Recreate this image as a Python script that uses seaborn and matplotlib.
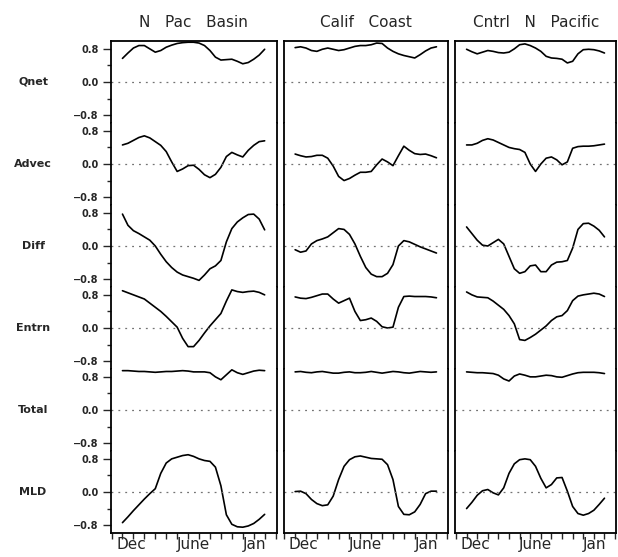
import numpy as np
import pandas as pd
import matplotlib
matplotlib.use('Agg')
import matplotlib.pyplot as plt
from matplotlib.ticker import FixedLocator
import seaborn as sns

# half-month grid, Dec (0) .. Jan of the following year (13)
months = np.arange(0, 13.5, 0.5)

regions = ['N   Pac   Basin', 'Calif   Coast', 'Cntrl   N   Pacific']
terms = ['Qnet', 'Advec', 'Diff', 'Entrn', 'Total', 'MLD']

# N Pac Basin
npac_qnet = [0.57, 0.70, 0.82, 0.88, 0.88, 0.80, 0.72, 0.76, 0.84, 0.89, 0.93, 0.95, 0.96, 0.96,
             0.94, 0.88, 0.76, 0.60, 0.53, 0.54, 0.55, 0.50, 0.44, 0.47, 0.55, 0.65, 0.79]
npac_advec = [0.46, 0.50, 0.57, 0.64, 0.68, 0.63, 0.54, 0.45, 0.30, 0.05, -0.18, -0.12, -0.04, -0.03,
              -0.13, -0.26, -0.33, -0.25, -0.08, 0.18, 0.28, 0.22, 0.17, 0.33, 0.45, 0.54, 0.56]
npac_diff = [0.77, 0.50, 0.37, 0.30, 0.22, 0.14, 0.00, -0.20, -0.38, -0.52, -0.63, -0.70, -0.74, -0.78,
             -0.83, -0.70, -0.55, -0.48, -0.35, 0.10, 0.42, 0.58, 0.68, 0.76, 0.77, 0.65, 0.39]
npac_entrn = [0.90, 0.85, 0.80, 0.75, 0.70, 0.60, 0.50, 0.40, 0.28, 0.15, 0.02, -0.25, -0.45, -0.45,
              -0.30, -0.12, 0.05, 0.20, 0.35, 0.65, 0.92, 0.88, 0.86, 0.88, 0.89, 0.86, 0.80]
npac_total = [0.95, 0.95, 0.94, 0.93, 0.93, 0.92, 0.91, 0.92, 0.93, 0.93, 0.94, 0.95, 0.94, 0.92,
              0.92, 0.92, 0.90, 0.80, 0.73, 0.85, 0.97, 0.90, 0.86, 0.90, 0.94, 0.96, 0.95]
npac_mld = [-0.74, -0.60, -0.45, -0.31, -0.17, -0.04, 0.08, 0.45, 0.70, 0.80, 0.84, 0.88, 0.90, 0.86,
            0.80, 0.76, 0.74, 0.60, 0.15, -0.55, -0.78, -0.84, -0.85, -0.82, -0.76, -0.66, -0.54]

# Calif Coast
calif_qnet = [0.83, 0.85, 0.82, 0.76, 0.74, 0.79, 0.82, 0.79, 0.76, 0.78, 0.82, 0.86, 0.88, 0.88,
              0.90, 0.94, 0.93, 0.82, 0.74, 0.68, 0.64, 0.61, 0.58, 0.66, 0.75, 0.82, 0.85]
calif_advec = [0.24, 0.20, 0.17, 0.18, 0.21, 0.21, 0.14, -0.05, -0.30, -0.40, -0.35, -0.27, -0.20, -0.20,
               -0.18, -0.02, 0.12, 0.05, -0.04, 0.20, 0.43, 0.33, 0.25, 0.23, 0.24, 0.20, 0.15]
calif_diff = [-0.09, -0.15, -0.12, 0.05, 0.13, 0.17, 0.22, 0.32, 0.42, 0.40, 0.28, 0.05, -0.25, -0.52,
              -0.68, -0.74, -0.74, -0.66, -0.45, 0.00, 0.13, 0.10, 0.04, -0.02, -0.07, -0.12, -0.17]
calif_entrn = [0.75, 0.72, 0.71, 0.74, 0.78, 0.82, 0.82, 0.70, 0.60, 0.66, 0.72, 0.40, 0.18, 0.20,
               0.24, 0.16, 0.03, 0.00, 0.02, 0.50, 0.76, 0.77, 0.76, 0.76, 0.76, 0.75, 0.73]
calif_total = [0.92, 0.93, 0.91, 0.90, 0.92, 0.93, 0.91, 0.89, 0.89, 0.91, 0.92, 0.90, 0.90, 0.91,
               0.93, 0.91, 0.89, 0.91, 0.93, 0.92, 0.90, 0.89, 0.91, 0.93, 0.92, 0.91, 0.92]
calif_mld = [0.01, 0.02, -0.04, -0.18, -0.28, -0.33, -0.31, -0.10, 0.30, 0.62, 0.78, 0.85, 0.87, 0.84,
             0.81, 0.80, 0.79, 0.66, 0.30, -0.35, -0.54, -0.55, -0.48, -0.30, -0.04, 0.02, 0.02]

# Cntrl N Pacific
cntrl_qnet = [0.79, 0.73, 0.68, 0.72, 0.76, 0.74, 0.71, 0.70, 0.72, 0.80, 0.90, 0.92, 0.88, 0.82,
              0.74, 0.62, 0.58, 0.57, 0.55, 0.46, 0.50, 0.68, 0.78, 0.79, 0.78, 0.75, 0.70]
cntrl_advec = [0.46, 0.46, 0.50, 0.57, 0.61, 0.58, 0.52, 0.46, 0.40, 0.37, 0.35, 0.28, 0.00, -0.18,
               0.00, 0.14, 0.17, 0.10, -0.02, 0.05, 0.38, 0.42, 0.43, 0.43, 0.44, 0.46, 0.48]
cntrl_diff = [0.46, 0.30, 0.14, 0.02, 0.00, 0.08, 0.16, 0.05, -0.25, -0.55, -0.66, -0.62, -0.48, -0.46,
              -0.62, -0.62, -0.46, -0.39, -0.38, -0.35, -0.05, 0.40, 0.54, 0.55, 0.48, 0.38, 0.22]
cntrl_entrn = [0.87, 0.80, 0.75, 0.74, 0.73, 0.65, 0.55, 0.45, 0.30, 0.10, -0.28, -0.30, -0.23, -0.15,
               -0.05, 0.05, 0.18, 0.27, 0.30, 0.42, 0.66, 0.77, 0.80, 0.82, 0.84, 0.82, 0.76]
cntrl_total = [0.92, 0.91, 0.90, 0.90, 0.89, 0.88, 0.84, 0.75, 0.70, 0.82, 0.87, 0.84, 0.80, 0.80,
               0.82, 0.84, 0.83, 0.80, 0.79, 0.83, 0.87, 0.90, 0.91, 0.91, 0.91, 0.90, 0.88]
cntrl_mld = [-0.40, -0.25, -0.08, 0.03, 0.06, -0.02, -0.07, 0.10, 0.45, 0.68, 0.78, 0.80, 0.78, 0.62,
             0.33, 0.10, 0.18, 0.34, 0.35, 0.02, -0.35, -0.52, -0.56, -0.52, -0.44, -0.30, -0.15]

series = {
    regions[0]: [npac_qnet, npac_advec, npac_diff, npac_entrn, npac_total, npac_mld],
    regions[1]: [calif_qnet, calif_advec, calif_diff, calif_entrn, calif_total, calif_mld],
    regions[2]: [cntrl_qnet, cntrl_advec, cntrl_diff, cntrl_entrn, cntrl_total, cntrl_mld],
}

sns.set_style('white')
plt.rcParams['font.family'] = ['DejaVu Sans']

fig, axes = plt.subplots(
    6, 3, figsize=(6.18, 5.57), dpi=100,
    gridspec_kw=dict(left=0.1796, right=0.997, top=0.9264, bottom=0.0431,
                     hspace=0, wspace=0.043, width_ratios=[166, 165, 161]))

for j, region in enumerate(regions):
    for i, term in enumerate(terms):
        ax = axes[i, j]
        sns.lineplot(x=months, y=series[region][i], ax=ax, color='black', linewidth=1.2)
        for ln in ax.get_lines():
            ln.set_solid_joinstyle('round')
        ax.axhline(0, color='0.45', linewidth=0.9, linestyle=(0, (1.5, 4)))
        ax.set_xlim(-1.05, 14.1)
        ax.set_ylim(-0.99, 0.99)
        ax.set_xlabel('')
        ax.set_ylabel('')
        for side in ['left', 'right', 'top', 'bottom']:
            ax.spines[side].set_color('black')
            ax.spines[side].set_linewidth(1.3)
        ax.spines['top'].set_visible(i == 0)
        ax.spines['bottom'].set_visible(i == 5)

        if j == 0:
            ax.yaxis.set_major_locator(FixedLocator([-0.8, 0.0, 0.8]))
            ax.yaxis.set_minor_locator(FixedLocator([-0.4, 0.4]))
            ax.set_yticklabels(['\u22120.8', '0.0', '0.8'], fontsize=7, fontweight='bold')
            ax.tick_params(axis='y', which='major', direction='out', length=6, width=1, left=True, pad=3)
            ax.tick_params(axis='y', which='minor', direction='out', length=3, width=1, left=True)
            ax.text(-0.47, 0.0, term, transform=ax.get_yaxis_transform(), ha='center', va='center',
                    fontsize=8, fontweight='bold')
        else:
            ax.set_yticks([])

        if i == 5:
            ax.xaxis.set_minor_locator(FixedLocator(list(range(-1, 15))))
            ax.set_xticks([0.8, 6.45, 12.1])
            ax.set_xticklabels(['Dec', 'June', 'Jan'], fontsize=11)
            ax.tick_params(axis='x', which='major', length=0, pad=3)
            ax.tick_params(axis='x', which='minor', direction='out', length=4, width=1, bottom=True)
        else:
            ax.set_xticks([])

    axes[0, j].set_title(region, fontsize=11, pad=10)

fig.savefig('out.png', dpi=100)
